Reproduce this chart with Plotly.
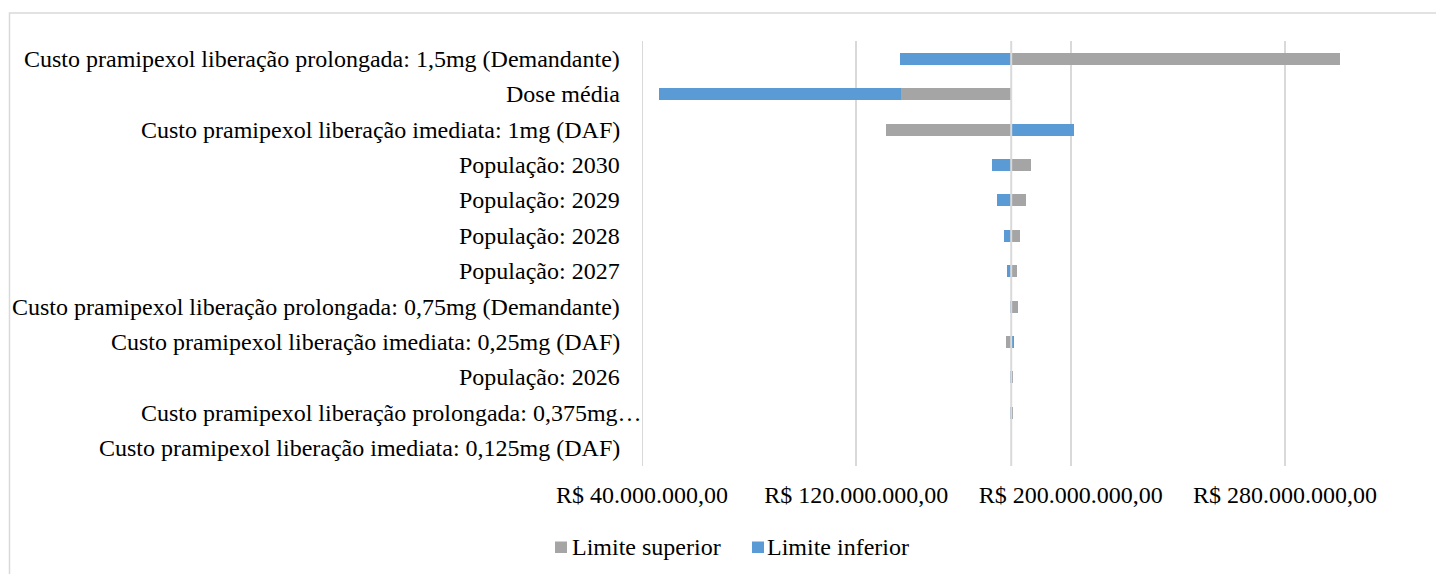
import plotly.graph_objects as go

# Tornado diagram: budget impact (R$) under lower / upper parameter limits
categories = [
    "Custo pramipexol liberação prolongada: 1,5mg (Demandante)",
    "Dose média",
    "Custo pramipexol liberação imediata: 1mg (DAF)",
    "População: 2030",
    "População: 2029",
    "População: 2028",
    "População: 2027",
    "Custo pramipexol liberação prolongada: 0,75mg (Demandante)",
    "Custo pramipexol liberação imediata: 0,25mg (DAF)",
    "População: 2026",
    "Custo pramipexol liberação prolongada: 0,375mg…",
    "Custo pramipexol liberação imediata: 0,125mg (DAF)",
]

base_value = 177.8e6  # base-case result, where the bars start

limite_superior = [300.4e6, 136.6e6, 131.0e6, 185.1e6, 183.3e6, 180.9e6,
                   179.8e6, 180.5e6, 175.9e6, 178.2e6, 178.5e6, 177.9e6]
limite_inferior = [136.3e6, 46.5e6, 201.3e6, 170.7e6, 172.6e6, 175.0e6,
                   176.2e6, 177.5e6, 178.9e6, 177.3e6, 177.7e6, 177.8e6]

tick_values = [40e6, 120e6, 200e6, 280e6]
tick_labels = ["R$ 40.000.000,00", "R$ 120.000.000,00",
               "R$ 200.000.000,00", "R$ 280.000.000,00"]

series_names = ["Limite superior", "Limite inferior"]

FONT = "Liberation Serif"
FS = 24
GRAY = "#a5a5a5"
BLUE = "#5b9bd5"
GRID = "#d9d9d9"

W, H = 1436, 574
ML, MR, MT, MB = 642, 17, 41, 108
x_min, x_max = 40e6, 330e6
plot_w = W - ML - MR
plot_h = H - MT - MB


def px_x(p):
    return (p - ML) / plot_w


def px_y(p):
    return (H - MB - p) / plot_h


fig = go.Figure()
fig.add_trace(go.Bar(
    y=categories, x=[v - base_value for v in limite_inferior], base=base_value,
    orientation="h", name=series_names[1], marker_color=BLUE,
    marker_line_width=0, width=0.34, showlegend=False,
))
fig.add_trace(go.Bar(
    y=categories, x=[v - base_value for v in limite_superior], base=base_value,
    orientation="h", name=series_names[0], marker_color=GRAY,
    marker_line_width=0, width=0.34, showlegend=False,
))

# category labels, right-aligned left of the plot area
for cat in categories:
    xpos = px_x(644) if cat.endswith("…") else px_x(622)
    fig.add_annotation(
        text=cat, x=xpos, xref="paper", y=cat, yref="y",
        xanchor="right", yanchor="middle", showarrow=False,
        font=dict(family=FONT, size=FS, color="black"),
    )

# gridline at the left edge of the value axis
fig.add_shape(type="line", x0=x_min, x1=x_min, xref="x", y0=0, y1=1,
              yref="paper", line=dict(color=GRID, width=2), layer="below")

# axis through the base case, drawn over the bars
fig.add_shape(type="line", x0=base_value, x1=base_value, xref="x",
              y0=0, y1=1, yref="paper", line=dict(color=GRID, width=2),
              layer="above")

# chart frame
fig.add_shape(type="rect", xref="paper", yref="paper",
              x0=px_x(9.5), x1=1.2, y0=-0.4, y1=px_y(13),
              line=dict(color=GRID, width=1.5), fillcolor="rgba(0,0,0,0)",
              layer="below")

# legend: colour key squares and names
legend_items = [(series_names[0], GRAY, 555, 570), (series_names[1], BLUE, 752, 765)]
for name, color, sq_left, text_left in legend_items:
    fig.add_shape(type="rect", xref="paper", yref="paper",
                  x0=px_x(sq_left), x1=px_x(sq_left + 12),
                  y0=px_y(553), y1=px_y(541.5),
                  line=dict(width=0), fillcolor=color)
    fig.add_annotation(text=name, x=px_x(text_left), xref="paper",
                       y=px_y(547), yref="paper", xanchor="left",
                       yanchor="middle", showarrow=False,
                       font=dict(family=FONT, size=FS, color="black"))

fig.update_layout(
    width=W, height=H,
    margin=dict(l=ML, r=MR, t=MT, b=MB),
    paper_bgcolor="white", plot_bgcolor="white",
    barmode="overlay", bargap=0,
    font=dict(family=FONT, size=FS, color="black"),
    showlegend=False,
    xaxis=dict(range=[x_min, x_max], tickvals=tick_values, ticktext=tick_labels,
               showgrid=True, gridcolor=GRID, gridwidth=2, zeroline=False,
               showline=False, ticks="", ticklabelstandoff=12,
               tickfont=dict(family=FONT, size=FS, color="black")),
    yaxis=dict(range=[11.5, -0.5], showticklabels=False, showgrid=False,
               zeroline=False, showline=False, ticks="",
               categoryorder="array", categoryarray=categories),
)

fig.write_html("out.html")
